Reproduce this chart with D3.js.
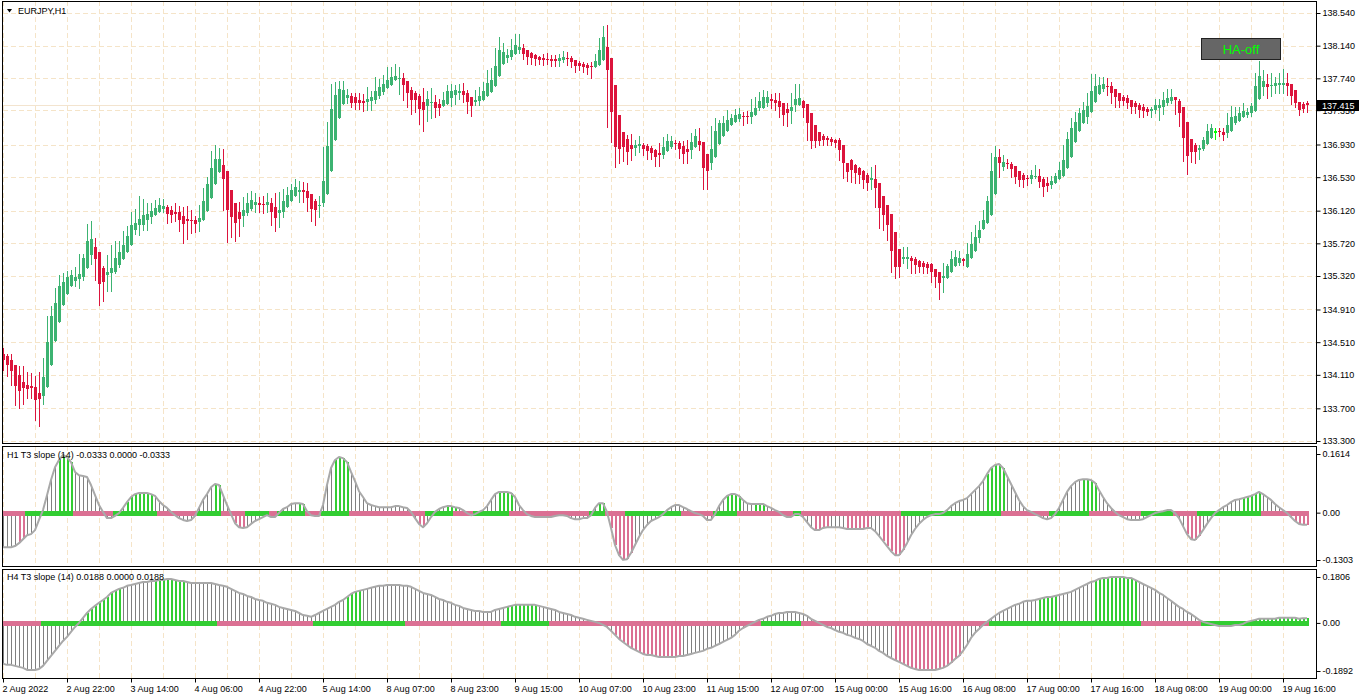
<!DOCTYPE html>
<html><head><meta charset="utf-8">
<script src="https://cdn.jsdelivr.net/npm/d3@7"></script>
<style>
body{margin:0;background:#fff}
svg{display:block}
text{font-family:"Liberation Sans",Arial,sans-serif;font-size:9px;fill:#000}
</style></head>
<body><svg id="c" width="1362" height="700"></svg>
<script>
// ---------------- DATA ----------------
const symbol = "EURJPY,H1";
const lastPrice = 137.415;
const priceTicks = [138.540,138.140,137.740,137.350,136.930,136.530,136.120,135.720,135.320,134.910,134.510,134.110,133.700,133.300];
const timeLabels = ["2 Aug 2022","2 Aug 22:00","3 Aug 14:00","4 Aug 06:00","4 Aug 22:00","5 Aug 14:00","8 Aug 07:00","8 Aug 23:00","9 Aug 15:00","10 Aug 07:00","10 Aug 23:00","11 Aug 15:00","12 Aug 07:00","15 Aug 00:00","15 Aug 16:00","16 Aug 08:00","17 Aug 00:00","17 Aug 16:00","18 Aug 08:00","19 Aug 00:00","19 Aug 16:00"];
const labelEvery = 16;   // bars between time labels
const gridEvery = 8;     // bars between vertical grid lines

const open = [
134.37,134.34,134.29,134.23,134.11,134.02,133.99,133.97,133.96,133.89,
133.85,133.96,134.23,134.52,134.76,134.96,135.10,135.20,135.26,135.28,
135.31,135.42,135.58,135.68,135.61,135.42,135.33,135.36,135.37,135.46,
135.53,135.61,135.70,135.88,135.94,135.94,136.01,136.04,136.07,136.10,
136.14,136.16,136.13,136.10,136.10,136.06,136.02,136.01,136.01,135.98,
136.01,136.12,136.28,136.45,136.59,136.68,136.61,136.37,136.21,136.10,
136.06,136.09,136.14,136.19,136.21,136.20,136.19,136.21,136.16,136.09,
136.10,136.16,136.24,136.30,136.35,136.37,136.36,136.32,136.24,136.18,
136.21,136.32,136.61,136.99,137.26,137.43,137.50,137.52,137.51,137.48,
137.46,137.45,137.46,137.48,137.52,137.57,137.62,137.66,137.72,137.73,
137.74,137.71,137.60,137.56,137.52,137.45,137.40,137.44,137.45,137.43,
137.40,137.43,137.50,137.54,137.56,137.59,137.56,137.51,137.45,137.46,
137.48,137.52,137.57,137.65,137.77,137.92,137.99,138.00,138.04,138.09,
138.11,138.09,138.05,138.03,138.00,137.99,137.98,137.98,137.98,137.95,
137.96,137.99,137.99,137.96,137.93,137.92,137.90,137.89,137.88,137.90,
137.96,138.12,137.99,137.66,137.29,137.08,137.00,136.92,136.89,136.91,
136.92,136.91,136.89,136.86,136.83,136.80,136.85,136.90,136.95,136.95,
136.91,136.87,136.86,136.90,136.97,136.96,136.81,136.70,136.78,136.94,
137.03,137.10,137.17,137.21,137.24,137.28,137.28,137.27,137.29,137.38,
137.38,137.44,137.49,137.48,137.46,137.44,137.36,137.34,137.41,137.41,
137.46,137.43,137.32,137.17,137.08,137.03,137.01,137.00,136.99,136.99,
136.92,136.70,136.74,136.68,136.64,136.61,136.56,136.50,136.51,136.46,
136.30,136.19,136.08,135.86,135.65,135.53,135.53,135.54,135.53,135.50,
135.48,135.47,135.47,135.41,135.37,135.30,135.30,135.37,135.44,135.48,
135.53,135.43,135.54,135.63,135.79,135.90,135.97,136.07,136.32,136.78,
136.66,136.70,136.69,136.67,136.61,136.56,136.52,136.51,136.53,136.55,
136.51,136.46,136.44,136.46,136.51,136.55,136.64,136.78,136.96,137.10,
137.19,137.27,137.33,137.45,137.55,137.61,137.65,137.65,137.61,137.56,
137.51,137.50,137.48,137.44,137.41,137.39,137.37,137.34,137.35,137.38,
137.39,137.44,137.46,137.51,137.46,137.39,137.21,137.00,136.92,136.86,
136.87,136.94,137.01,137.07,137.10,137.08,137.07,137.10,137.19,137.22,
137.27,137.29,137.32,137.34,137.49,137.63,137.67,137.65,137.65,137.66,
137.66,137.68,137.67,137.60,137.45,137.42,137.44];
const high = [
134.44,134.37,134.37,134.23,134.22,134.22,134.14,134.13,134.10,134.14,
134.32,134.83,134.95,135.17,135.33,135.36,135.38,135.39,135.43,135.59,
135.59,135.96,135.99,135.79,135.61,135.44,135.58,135.70,135.75,135.75,
135.87,135.93,136.10,136.14,136.30,136.26,136.21,136.21,136.25,136.28,
136.26,136.19,136.18,136.21,136.18,136.17,136.18,136.13,136.06,136.19,
136.40,136.53,136.85,136.92,136.89,136.87,136.61,136.37,136.21,136.23,
136.29,136.34,136.36,136.34,136.29,136.30,136.34,136.28,136.34,136.35,
136.39,136.41,136.45,136.51,136.48,136.47,136.46,136.32,136.26,136.30,
136.90,137.21,137.67,137.70,137.71,137.71,137.61,137.56,137.56,137.56,
137.55,137.63,137.58,137.76,137.73,137.78,137.88,137.88,137.92,137.88,
137.81,137.71,137.63,137.58,137.55,137.62,137.58,137.62,137.54,137.49,
137.57,137.66,137.67,137.66,137.67,137.68,137.60,137.51,137.60,137.63,
137.70,137.84,137.87,138.11,138.25,138.17,138.10,138.22,138.28,138.28,
138.16,138.09,138.06,138.04,138.01,138.04,138.05,138.03,138.03,138.04,
138.08,138.06,138.01,137.96,137.95,137.94,137.93,137.94,138.04,138.23,
138.38,138.39,137.99,137.66,137.29,137.08,137.05,137.06,136.99,137.03,
136.95,136.94,136.91,136.87,136.95,137.02,137.06,137.03,136.99,136.97,
136.97,136.99,137.07,137.12,137.13,136.96,136.81,137.16,137.26,137.23,
137.28,137.35,137.30,137.37,137.38,137.33,137.34,137.49,137.51,137.57,
137.60,137.58,137.55,137.56,137.56,137.44,137.44,137.56,137.67,137.67,
137.48,137.43,137.32,137.17,137.08,137.06,137.03,137.02,137.00,137.01,
136.92,136.70,136.75,136.69,136.65,136.62,136.58,136.65,136.68,136.46,
136.30,136.19,136.08,135.86,135.65,135.68,135.68,135.56,135.55,135.52,
135.50,135.49,135.48,135.41,135.37,135.48,135.47,135.63,135.64,135.63,
135.54,135.72,135.86,135.94,135.99,136.13,136.30,136.83,136.91,136.87,
136.80,136.75,136.72,136.67,136.61,136.58,136.56,136.62,136.68,136.63,
136.53,136.53,136.54,136.58,136.72,136.92,137.08,137.26,137.33,137.38,
137.45,137.56,137.79,137.79,137.76,137.76,137.74,137.70,137.61,137.56,
137.54,137.54,137.48,137.46,137.44,137.43,137.39,137.39,137.49,137.49,
137.57,137.61,137.61,137.51,137.49,137.39,137.21,137.00,136.95,136.92,
137.02,137.18,137.18,137.13,137.13,137.13,137.32,137.40,137.39,137.39,
137.44,137.38,137.44,137.81,137.95,137.84,137.79,137.81,137.76,137.81,
137.85,137.81,137.67,137.60,137.45,137.45,137.46];
const low = [
134.17,134.10,133.99,133.74,133.70,133.75,133.83,133.83,133.56,133.48,
133.75,133.96,134.23,134.52,134.76,134.96,135.10,135.20,135.20,135.17,
135.27,135.42,135.47,135.27,134.96,135.01,135.14,135.14,135.36,135.43,
135.53,135.61,135.70,135.83,135.82,135.88,135.88,135.97,136.07,136.10,
136.10,135.97,135.98,135.99,135.87,135.72,135.77,135.85,135.86,135.87,
136.01,136.12,136.28,136.45,136.59,136.13,135.74,135.80,135.75,135.81,
135.93,136.07,136.13,136.10,136.10,136.09,136.10,135.94,135.87,135.92,
136.04,136.16,136.24,136.30,136.23,136.23,136.12,135.99,135.94,136.04,
136.18,136.32,136.61,136.99,137.26,137.43,137.44,137.39,137.37,137.37,
137.34,137.35,137.35,137.44,137.50,137.55,137.62,137.66,137.72,137.55,
137.48,137.39,137.30,137.33,137.18,137.10,137.22,137.25,137.27,137.29,
137.40,137.43,137.40,137.43,137.49,137.45,137.32,137.28,137.41,137.41,
137.48,137.52,137.57,137.65,137.77,137.92,137.94,137.98,138.04,138.05,
137.98,137.92,137.92,137.90,137.92,137.90,137.92,137.89,137.89,137.89,
137.94,137.90,137.88,137.82,137.84,137.82,137.79,137.74,137.88,137.90,
137.96,137.14,136.96,136.65,136.70,136.73,136.69,136.74,136.80,136.84,
136.80,136.75,136.75,136.67,136.67,136.76,136.85,136.89,136.87,136.76,
136.70,136.70,136.76,136.90,136.86,136.39,136.39,136.63,136.78,136.94,
137.03,137.10,137.17,137.21,137.22,137.17,137.19,137.19,137.29,137.35,
137.38,137.40,137.38,137.35,137.27,137.17,137.16,137.19,137.34,137.41,
137.27,136.99,136.89,136.90,136.92,136.92,136.92,136.92,136.90,136.74,
136.52,136.48,136.47,136.46,136.46,136.40,136.37,136.39,136.17,135.91,
135.88,135.76,135.37,135.30,135.31,135.48,135.42,135.36,135.36,135.37,
135.36,135.36,135.25,135.19,135.04,135.12,135.30,135.37,135.44,135.46,
135.46,135.43,135.54,135.63,135.74,135.90,135.97,136.07,136.32,136.53,
136.62,136.64,136.53,136.46,136.42,136.41,136.43,136.46,136.52,136.41,
136.30,136.36,136.40,136.46,136.51,136.55,136.64,136.78,136.96,137.10,
137.19,137.19,137.33,137.45,137.55,137.58,137.54,137.44,137.39,137.39,
137.41,137.38,137.32,137.32,137.27,137.27,137.29,137.27,137.32,137.23,
137.30,137.41,137.44,137.30,137.16,136.73,136.57,136.72,136.70,136.75,
136.86,136.94,137.01,137.00,137.03,136.99,137.02,137.10,137.18,137.22,
137.27,137.27,137.28,137.34,137.49,137.54,137.50,137.52,137.56,137.56,
137.56,137.54,137.43,137.39,137.29,137.33,137.33];
const close = [
134.29,134.23,134.16,133.97,133.91,133.95,133.94,133.95,133.80,133.81,
134.08,134.51,134.83,134.99,135.20,135.25,135.31,135.33,135.31,135.34,
135.54,135.75,135.77,135.53,135.22,135.25,135.37,135.42,135.54,135.61,
135.70,135.81,135.94,135.97,136.02,136.07,136.08,136.12,136.15,136.19,
136.18,136.08,136.07,136.08,136.01,135.96,135.99,135.99,135.96,136.03,
136.24,136.45,136.64,136.75,136.75,136.51,136.13,136.04,135.97,136.02,
136.13,136.21,136.25,136.23,136.19,136.19,136.23,136.10,136.03,136.13,
136.24,136.31,136.37,136.41,136.37,136.35,136.28,136.14,136.13,136.19,
136.48,136.91,137.37,137.54,137.61,137.60,137.54,137.44,137.44,137.44,
137.44,137.49,137.51,137.59,137.63,137.67,137.72,137.76,137.77,137.74,
137.66,137.56,137.48,137.48,137.37,137.35,137.49,137.45,137.38,137.38,
137.48,137.59,137.59,137.60,137.59,137.54,137.45,137.40,137.48,137.52,
137.59,137.68,137.72,137.89,138.09,138.06,138.03,138.09,138.15,138.12,
138.04,138.00,137.99,137.98,137.96,137.96,137.96,137.95,137.95,137.99,
138.00,137.98,137.94,137.89,137.89,137.88,137.87,137.88,137.95,138.09,
138.25,137.84,137.33,136.90,136.87,136.90,136.84,136.87,136.92,136.94,
136.87,136.85,136.83,136.78,136.80,136.90,136.97,136.97,136.94,136.87,
136.81,136.84,136.96,137.03,136.92,136.64,136.61,136.87,137.10,137.19,
137.19,137.23,137.26,137.29,137.30,137.27,137.27,137.33,137.38,137.46,
137.51,137.51,137.46,137.44,137.39,137.29,137.32,137.39,137.49,137.50,
137.38,137.19,136.97,136.97,136.97,136.99,136.99,136.96,136.95,136.86,
136.70,136.59,136.62,136.58,136.56,136.50,136.46,136.52,136.40,136.15,
136.07,135.94,135.63,135.43,135.43,135.55,135.55,135.50,135.46,135.43,
135.43,135.42,135.37,135.31,135.23,135.32,135.44,135.53,135.55,135.54,
135.50,135.59,135.71,135.80,135.88,136.01,136.24,136.61,136.78,136.70,
136.72,136.69,136.63,136.53,136.50,136.50,136.51,136.56,136.55,136.47,
136.41,136.42,136.48,136.55,136.62,136.74,137.00,137.13,137.21,137.32,
137.35,137.40,137.59,137.65,137.66,137.67,137.63,137.56,137.51,137.46,
137.46,137.44,137.39,137.39,137.35,137.34,137.33,137.37,137.41,137.41,
137.48,137.50,137.51,137.48,137.32,137.01,136.79,136.84,136.84,136.89,
136.99,137.10,137.13,137.10,137.08,137.05,137.17,137.27,137.28,137.32,
137.34,137.33,137.40,137.65,137.77,137.71,137.63,137.66,137.68,137.68,
137.68,137.65,137.52,137.44,137.35,137.37,137.415];
const limeBars = [303];

// H1 T3 slope (14)
const h1Slope = [
-.095,-.095,-.095,-.092,-.084,-.073,-.062,-.059,-.048,-.020,
.007,.048,.090,.125,.145,.159,.153,.139,.112,.103,
.101,.098,.076,.048,.021,.002,-.015,-.015,-.009,-.001,
.013,.029,.043,.051,.054,.054,.054,.051,.046,.032,
.021,.013,.002,-.007,-.015,-.020,-.023,-.020,-.009,.013,
.035,.051,.070,.079,.076,.048,.021,-.004,-.029,-.040,
-.042,-.040,-.031,-.023,-.018,-.012,-.007,-.012,-.012,-.001,
.010,.015,.024,.026,.026,.024,.004,-.007,-.009,-.009,
.021,.076,.123,.145,.153,.150,.139,.112,.087,.059,
.043,.026,.021,.018,.015,.015,.015,.015,.018,.018,
.015,.013,.002,-.015,-.031,-.040,-.029,-.012,.002,.010,
.015,.018,.018,.015,.013,.007,-.001,-.007,-.004,.002,
.007,.018,.035,.051,.057,.057,.057,.054,.043,.021,
.007,-.004,-.009,-.012,-.012,-.012,-.012,-.012,-.009,-.007,
-.007,-.009,-.015,-.018,-.018,-.015,-.015,-.007,.013,.026,
.026,.002,-.042,-.089,-.117,-.130,-.128,-.111,-.089,-.067,
-.048,-.034,-.023,-.018,-.012,-.004,.007,.015,.021,.021,
.015,.010,.004,-.001,-.004,-.009,-.020,-.020,-.004,.018,
.035,.046,.051,.051,.046,.035,.026,.024,.024,.024,
.024,.018,.013,.007,.002,-.007,-.012,-.012,-.004,-.004,
-.012,-.026,-.040,-.048,-.048,-.042,-.040,-.040,-.040,-.040,
-.042,-.045,-.045,-.045,-.045,-.045,-.042,-.042,-.051,-.064,
-.078,-.092,-.106,-.117,-.117,-.103,-.084,-.062,-.045,-.031,
-.020,-.012,-.007,-.004,-.004,-.001,.007,.018,.026,.032,
.035,.040,.051,.062,.073,.087,.106,.123,.131,.134,
.123,.101,.079,.057,.035,.018,.007,.002,-.004,-.009,
-.015,-.018,-.015,-.004,.013,.035,.057,.073,.084,.090,
.092,.092,.090,.082,.062,.043,.026,.013,.002,-.007,
-.012,-.018,-.020,-.020,-.020,-.018,-.012,-.007,-.001,.002,
.004,.007,.007,-.001,-.015,-.037,-.059,-.073,-.075,-.064,
-.048,-.031,-.015,-.001,.007,.015,.021,.029,.035,.037,
.040,.043,.046,.051,.057,.051,.043,.035,.024,.015,
.007,-.001,-.012,-.023,-.031,-.033,-.0333];
const h1Range = [-0.1303, 0.1614];
const h1BandRuns = [["p",6],["g",12],["p",10],["g",11],["p",10],["g",6],["p",6],["g",6],["p",2],["g",7],["p",4],["g",7],["p",19],["g",7],["p",5],["g",9],["p",20],["g",4],["p",5],["g",14],["p",8],["g",6],["p",14],["g",2],["p",25],["g",25],["p",12],["g",10],["p",13],["g",8],["p",6],["g",16],["p",12]];
const h1HistRuns = [["n",4],["p",2],["n",8],["g",4],["n",13],["g",7],["n",15],["g",2],["n",3],["p",3],["n",13],["g",2],["n",7],["g",4],["n",17],["p",2],["n",5],["g",3],["n",10],["g",4],["n",21],["g",2],["n",1],["p",6],["n",23],["g",4],["n",3],["g",3],["n",12],["p",4],["n",4],["p",6],["n",3],["p",6],["n",20],["g",5],["n",19],["g",4],["n",22],["p",4],["n",10],["g",5],["n",8],["p",4]];

// H4 T3 slope (14)
const h4Slope = [
-.161,-.165,-.165,-.169,-.173,-.177,-.185,-.185,-.185,-.181,
-.169,-.149,-.130,-.110,-.090,-.071,-.055,-.035,-.016,.000,
.020,.039,.055,.067,.079,.090,.102,.118,.126,.134,
.138,.146,.149,.153,.157,.161,.161,.165,.165,.169,
.169,.173,.173,.169,.165,.165,.161,.157,.157,.157,
.157,.157,.157,.153,.149,.146,.142,.134,.126,.118,
.114,.106,.102,.094,.090,.087,.079,.075,.071,.063,
.059,.055,.051,.047,.039,.031,.028,.024,.031,.039,
.047,.055,.063,.071,.083,.090,.102,.114,.122,.126,
.130,.134,.138,.142,.146,.146,.149,.149,.149,.149,
.146,.146,.142,.134,.126,.118,.114,.110,.102,.094,
.090,.083,.079,.071,.067,.059,.055,.051,.047,.047,
.043,.043,.043,.051,.055,.059,.063,.067,.071,.071,
.071,.071,.071,.071,.067,.063,.059,.055,.051,.043,
.039,.035,.031,.024,.020,.016,.012,.008,.004,.000,
-.008,-.016,-.031,-.047,-.063,-.075,-.087,-.098,-.106,-.114,
-.122,-.126,-.126,-.130,-.134,-.134,-.134,-.134,-.134,-.130,
-.130,-.126,-.122,-.118,-.114,-.110,-.102,-.098,-.090,-.083,
-.075,-.067,-.059,-.047,-.031,-.020,-.012,-.004,.004,.012,
.016,.024,.028,.035,.039,.039,.043,.043,.043,.039,
.035,.028,.016,.008,.000,-.008,-.016,-.020,-.028,-.035,
-.039,-.047,-.051,-.059,-.063,-.071,-.083,-.090,-.098,-.110,
-.118,-.130,-.138,-.146,-.153,-.161,-.169,-.177,-.181,-.185,
-.185,-.185,-.185,-.185,-.181,-.177,-.169,-.157,-.142,-.130,
-.110,-.087,-.059,-.039,-.024,-.008,.004,.016,.028,.039,
.047,.055,.063,.071,.075,.083,.087,.087,.090,.094,
.098,.102,.102,.106,.110,.114,.118,.122,.130,.138,
.146,.153,.161,.165,.173,.177,.177,.181,.181,.181,
.181,.177,.177,.169,.161,.153,.146,.138,.130,.118,
.110,.098,.087,.075,.063,.055,.043,.035,.024,.012,
.004,.000,-.004,-.008,-.012,-.012,-.012,-.012,-.008,-.008,
-.004,.004,.008,.012,.016,.016,.016,.016,.016,.020,
.020,.020,.020,.020,.016,.0188,.0188];
const h4Range = [-0.1892, 0.1806];
const h4BandRuns = [["p",10],["g",44],["p",24],["g",23],["p",24],["g",12],["p",53],["g",10],["p",47],["g",38],["p",15],["g",27]];
const h4HistRuns = [["n",21],["g",9],["n",8],["g",8],["n",40],["g",4],["n",36],["g",8],["n",19],["p",17],["n",53],["p",17],["n",19],["g",5],["n",9],["g",11],["n",28],["g",15]];

// ---------------- DRAW ----------------
const N = close.length;
const bars = d3.range(N);
const expand = runs => runs.flatMap(([c, n]) => Array(n).fill(c));
const loc = d3.formatLocale({decimal: ".", thousands: ",", grouping: [3], currency: ["", ""], minus: "-"});

const C = {
  bull: "#3cb371", bear: "#dc143c", lime: "#00ff00",
  grid: "#f5e4c8", bid: "#f3e4cf",
  green: "#32cd32", pink: "#db7093", gray: "#808080", line: "#a9a9a9"
};
const L = 3, R = 1316;
const panes = {
  main: {top: 1, bottom: 443},
  h1: {top: 446, bottom: 566},
  h4: {top: 569, bottom: 678}
};

const svg = d3.select("#c");
const defs = svg.append("defs");
Object.entries(panes).forEach(([k, p]) => {
  defs.append("clipPath").attr("id", "clip-" + k)
    .append("rect").attr("x", L).attr("y", p.top + 1).attr("width", R - L).attr("height", p.bottom - p.top - 1);
});

const x = d3.scaleLinear().domain([0, N - 1]).range([3, 1307]);
const y = d3.scaleLinear().domain([133.30, 138.54]).range([441, 13]);
const yH1 = d3.scaleLinear().domain(h1Range).range([560, 454]);
const yH4 = d3.scaleLinear().domain(h4Range).range([671, 577]);
const px = i => Math.round(x(i));

// grid
const gGrid = svg.append("g").attr("shape-rendering", "crispEdges");
const gridBars = bars.filter(i => i % gridEvery === 0);
Object.entries(panes).forEach(([k, p]) => {
  gGrid.append("g").attr("clip-path", `url(#clip-${k})`).selectAll("line").data(gridBars).join("line")
    .attr("x1", i => px(i) + 0.5).attr("x2", i => px(i) + 0.5)
    .attr("y1", p.top).attr("y2", p.bottom)
    .attr("stroke", C.grid).attr("stroke-dasharray", "5,3");
});
gGrid.append("g").selectAll("line").data(priceTicks).join("line")
  .attr("x1", L).attr("x2", R)
  .attr("y1", d => Math.round(y(d)) + 0.5).attr("y2", d => Math.round(y(d)) + 0.5)
  .attr("stroke", C.grid).attr("stroke-dasharray", "5,3");
gGrid.append("line").attr("x1", L).attr("x2", R)
  .attr("y1", Math.round(y(lastPrice)) + 0.5).attr("y2", Math.round(y(lastPrice)) + 0.5)
  .attr("stroke", C.bid);

// candles
const colorOf = i => limeBars.includes(i) ? C.lime : (close[i] >= open[i] ? C.bull : C.bear);
const gC = svg.append("g").attr("clip-path", "url(#clip-main)").attr("shape-rendering", "crispEdges");
gC.selectAll("rect.wick").data(bars).join("rect").attr("class", "wick")
  .attr("x", i => px(i))
  .attr("y", i => Math.round(y(high[i])))
  .attr("width", 1)
  .attr("height", i => Math.max(1, Math.round(y(low[i])) - Math.round(y(high[i])) + 1))
  .attr("fill", colorOf);
gC.selectAll("rect.body").data(bars).join("rect").attr("class", "body")
  .attr("x", i => px(i) - 1)
  .attr("y", i => Math.round(y(Math.max(open[i], close[i]))))
  .attr("width", 3)
  .attr("height", i => Math.max(1, Math.round(y(Math.min(open[i], close[i]))) - Math.round(y(Math.max(open[i], close[i])))))
  .attr("fill", colorOf);

// indicator panes
function drawPane(key, vals, bandRuns, histRuns, ys) {
  const band = expand(bandRuns), hist = expand(histRuns);
  const g = svg.append("g").attr("clip-path", `url(#clip-${key})`);
  const z = ys(0);
  g.append("g").attr("shape-rendering", "crispEdges").selectAll("line").data(bars).join("line")
    .attr("x1", i => hist[i] === "n" ? px(i) + 0.5 : px(i) + 1)
    .attr("x2", i => hist[i] === "n" ? px(i) + 0.5 : px(i) + 1)
    .attr("y1", z).attr("y2", i => ys(vals[i]))
    .attr("stroke", i => hist[i] === "g" ? C.green : hist[i] === "p" ? C.pink : C.gray)
    .attr("stroke-width", i => hist[i] === "n" ? 1 : 2);
  g.append("g").attr("shape-rendering", "crispEdges").selectAll("rect").data(bars).join("rect")
    .attr("x", i => px(i) - 2).attr("width", 4)
    .attr("y", Math.round(z) - 2).attr("height", 5)
    .attr("fill", i => band[i] === "g" ? C.green : C.pink);
  g.append("path").datum(bars)
    .attr("d", d3.line().x(i => x(i)).y(i => ys(vals[i])))
    .attr("fill", "none").attr("stroke", C.line).attr("stroke-width", 2).attr("stroke-linejoin", "round");
}
drawPane("h1", h1Slope, h1BandRuns, h1HistRuns, yH1);
drawPane("h4", h4Slope, h4BandRuns, h4HistRuns, yH4);

// frames
const gF = svg.append("g").attr("shape-rendering", "crispEdges");
Object.values(panes).forEach(p => {
  gF.append("rect").attr("x", 2.5).attr("y", p.top + 0.5).attr("width", R - 2).attr("height", p.bottom - p.top)
    .attr("fill", "none").attr("stroke", "#000");
});

// axes
function styleAxis(g) {
  g.select(".domain").remove();
  g.attr("font-family", null).attr("font-size", null);
  g.selectAll(".tick line").attr("stroke", "#000");
  g.selectAll(".tick text").attr("fill", "#000");
}
svg.append("g").attr("transform", `translate(${R + 0.5},0)`)
  .call(d3.axisRight(y).tickValues(priceTicks).tickFormat(loc.format(".3f")).tickSize(4).tickPadding(2))
  .call(styleAxis);
const f4 = loc.format(".4f");
const fmtInd = d => d === 0 ? "0.00" : f4(d);
svg.append("g").attr("transform", `translate(${R + 0.5},0)`)
  .call(d3.axisRight(yH1).tickValues([h1Range[1], 0, h1Range[0]]).tickFormat(fmtInd).tickSize(4).tickPadding(2))
  .call(styleAxis);
svg.append("g").attr("transform", `translate(${R + 0.5},0)`)
  .call(d3.axisRight(yH4).tickValues([h4Range[1], 0, h4Range[0]]).tickFormat(fmtInd).tickSize(4).tickPadding(2))
  .call(styleAxis);
const labelBars = timeLabels.map((_, k) => k * labelEvery);
svg.append("g").attr("transform", `translate(0,${panes.h4.bottom + 0.5})`)
  .call(d3.axisBottom(x).tickValues(labelBars).tickFormat((d, k) => timeLabels[k]).tickSize(4).tickPadding(3))
  .call(styleAxis)
  .call(g => g.selectAll(".tick text").attr("text-anchor", "start").attr("dx", "-0.1em"));

// current price tag (drawn over the axis, as in the terminal)
const yb = Math.round(y(lastPrice));
svg.append("rect").attr("x", R + 1).attr("y", yb - 5).attr("width", 42).attr("height", 11).attr("fill", "#000");
svg.append("text").attr("x", R + 6).attr("y", yb + 3.5).style("fill", "#fff").text(loc.format(".3f")(lastPrice));

// titles
svg.append("path").attr("d", "M7,9 L12,9 L9.5,12.5 Z").attr("fill", "#000");
svg.append("text").attr("x", 18).attr("y", 14).text(symbol);
const h1Last = h1Slope[N - 1], h4Last = h4Slope[N - 1];
svg.append("text").attr("x", 7).attr("y", 457.5).text(`H1 T3 slope (14) ${f4(h1Last)} ${f4(0)} ${f4(h1Last)}`);
svg.append("text").attr("x", 7).attr("y", 580).text(`H4 T3 slope (14) ${f4(h4Last)} ${f4(0)} ${f4(h4Last)}`);

// HA button
svg.append("rect").attr("x", 1201.5).attr("y", 38.5).attr("width", 79).attr("height", 21)
  .attr("fill", "#666").attr("stroke", "#222");
svg.append("text").attr("x", 1241).attr("y", 54).attr("text-anchor", "middle")
  .style("font-size", "13px").style("fill", "#00ff00").text("HA-off");
</script></body></html>
